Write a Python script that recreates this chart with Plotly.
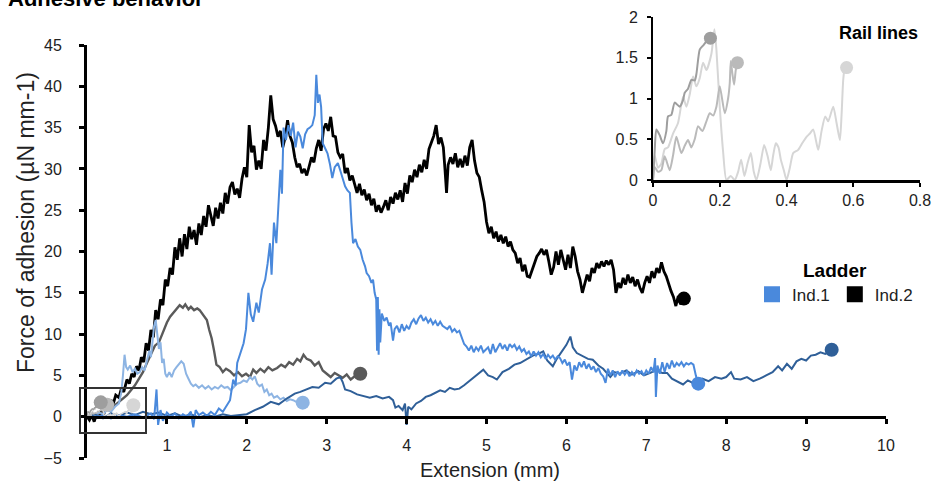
import plotly.graph_objects as go

FONT = "Liberation Sans, Arial, sans-serif"

# ---------------- data (extension mm, force µN mm-1) ----------------
ladder_ind2_a = [
    (0.00, 0.0), (0.03, -0.4), (0.06, 0.2), (0.09, -0.6), (0.12, 0.3), (0.15, -0.2), (0.18, 0.6),
    (0.21, 0.3), (0.24, 1.2), (0.27, 0.9), (0.30, 2.0), (0.33, 1.6), (0.36, 2.6), (0.40, 2.3),
    (0.43, 3.4), (0.46, 3.0), (0.50, 4.5), (0.53, 4.0), (0.56, 5.2), (0.59, 4.8), (0.62, 6.1),
    (0.65, 5.6), (0.68, 7.2), (0.71, 6.6), (0.74, 8.9), (0.77, 8.0), (0.80, 10.5), (0.83, 9.6),
    (0.86, 12.9), (0.89, 11.8), (0.92, 14.2), (0.95, 13.5), (0.98, 16.6), (1.01, 15.8), (1.04, 18.0),
    (1.07, 17.2), (1.10, 20.5), (1.13, 19.0), (1.16, 21.6), (1.19, 19.4), (1.22, 22.1), (1.25, 20.3),
    (1.28, 23.0), (1.31, 21.5), (1.34, 22.6), (1.37, 20.8), (1.40, 23.4), (1.43, 22.0), (1.46, 24.3),
    (1.49, 23.0), (1.52, 25.6), (1.55, 24.2), (1.58, 23.1), (1.61, 25.3), (1.64, 24.0), (1.67, 25.9),
    (1.70, 24.6), (1.73, 27.1), (1.76, 25.8), (1.79, 27.8), (1.82, 28.4), (1.85, 26.9), (1.88, 27.6),
    (1.91, 26.5), (1.94, 28.8), (1.97, 30.2), (2.00, 29.0), (2.03, 35.3), (2.06, 32.0), (2.09, 32.8),
    (2.12, 29.9), (2.15, 31.0), (2.18, 30.0), (2.21, 33.5), (2.24, 32.2), (2.27, 35.0), (2.30, 38.9),
    (2.33, 36.0), (2.36, 35.2), (2.39, 33.9), (2.42, 34.6), (2.45, 32.6), (2.48, 33.8), (2.51, 35.9),
    (2.54, 34.0), (2.57, 33.2), (2.60, 31.4), (2.63, 30.2), (2.66, 30.6), (2.69, 29.5), (2.72, 30.0),
    (2.75, 29.2), (2.78, 30.4), (2.81, 31.4), (2.84, 30.8), (2.87, 32.5), (2.90, 33.5), (2.93, 32.2),
    (2.96, 34.8), (2.99, 35.5), (3.02, 34.6), (3.05, 36.3), (3.08, 34.0), (3.11, 33.9), (3.14, 32.0),
    (3.17, 31.4), (3.20, 31.8), (3.23, 29.5), (3.26, 30.1), (3.29, 28.6), (3.32, 29.2), (3.35, 28.0),
    (3.38, 27.1), (3.41, 28.2), (3.44, 26.8), (3.47, 27.5), (3.50, 26.2), (3.53, 27.0), (3.56, 25.6),
    (3.59, 26.4), (3.62, 24.8), (3.65, 25.6), (3.68, 24.7), (3.71, 25.4), (3.74, 26.2), (3.77, 25.0),
    (3.80, 26.6), (3.83, 25.8), (3.86, 27.1), (3.89, 26.3), (3.92, 27.4), (3.95, 26.0), (3.98, 28.3),
    (4.01, 27.0), (4.04, 29.2), (4.07, 28.4), (4.10, 29.9), (4.13, 29.0), (4.16, 30.5), (4.19, 29.6),
    (4.22, 31.1), (4.25, 30.0), (4.28, 32.4), (4.31, 33.2), (4.34, 34.0), (4.37, 35.3), (4.40, 33.0),
    (4.43, 33.8), (4.46, 32.6), (4.48, 30.0), (4.50, 27.1), (4.52, 30.5), (4.55, 31.4), (4.58, 30.6),
    (4.61, 31.9), (4.64, 30.2), (4.67, 31.2), (4.70, 30.2), (4.73, 31.6), (4.76, 30.4), (4.79, 32.6),
    (4.82, 33.5), (4.85, 31.0), (4.88, 29.5), (4.91, 29.0), (4.94, 27.4), (4.97, 26.0), (5.00, 23.6),
    (5.03, 22.2), (5.06, 23.0), (5.09, 21.6), (5.12, 22.4), (5.15, 21.2), (5.18, 22.0), (5.21, 21.0),
    (5.24, 21.8), (5.27, 20.6), (5.30, 21.2), (5.33, 20.2), (5.36, 19.8), (5.39, 18.6), (5.42, 19.2),
    (5.45, 17.6), (5.48, 18.4), (5.51, 17.0), (5.54, 16.9), (5.57, 17.8), (5.60, 18.6), (5.63, 19.4),
    (5.66, 19.8), (5.69, 20.3), (5.72, 19.6), (5.75, 20.2), (5.78, 18.8), (5.81, 17.2), (5.84, 18.1),
    (5.87, 20.0), (5.90, 18.4), (5.93, 20.2), (5.96, 19.0), (5.99, 17.8), (6.02, 19.6), (6.05, 18.0),
    (6.08, 20.6), (6.11, 19.4), (6.14, 17.6), (6.17, 16.6), (6.20, 15.0), (6.23, 16.0), (6.26, 17.2),
    (6.29, 16.4), (6.32, 18.0), (6.35, 17.4), (6.38, 18.6), (6.41, 18.0), (6.44, 18.8), (6.47, 18.2),
    (6.50, 18.9), (6.53, 18.4), (6.56, 19.0), (6.59, 17.8), (6.62, 15.0), (6.65, 16.2), (6.68, 15.6),
    (6.71, 16.8), (6.74, 16.0), (6.77, 17.2), (6.80, 16.2), (6.83, 16.9), (6.86, 15.8), (6.89, 16.6),
    (6.92, 15.6), (6.95, 15.0), (6.98, 16.2), (7.01, 17.0), (7.04, 16.2), (7.07, 17.6), (7.10, 16.8),
    (7.13, 18.0), (7.16, 17.4), (7.19, 18.7), (7.22, 17.6), (7.25, 17.0), (7.28, 16.0), (7.31, 15.2),
    (7.34, 14.5), (7.37, 13.4), (7.40, 14.6), (7.43, 13.6), (7.47, 14.3),
]

ladder_ind2_b = [
    (0.00, 0.0), (0.10, 0.2), (0.20, 0.6), (0.30, 1.0), (0.40, 1.8), (0.50, 2.6), (0.60, 3.8),
    (0.70, 5.4), (0.75, 6.5), (0.80, 7.5), (0.85, 8.6), (0.90, 9.0), (0.95, 10.2), (1.00, 11.4),
    (1.04, 12.1), (1.08, 12.6), (1.12, 13.0), (1.16, 13.5), (1.20, 13.2), (1.23, 13.6), (1.27, 13.0),
    (1.30, 13.3), (1.34, 12.9), (1.38, 13.1), (1.41, 12.9), (1.45, 12.3), (1.50, 11.7), (1.53, 10.5),
    (1.56, 9.5), (1.59, 8.0), (1.62, 6.3), (1.66, 6.0), (1.70, 5.4), (1.74, 5.8), (1.79, 5.5),
    (1.84, 5.0), (1.89, 5.4), (1.94, 4.9), (1.99, 5.2), (2.04, 4.8), (2.08, 5.7), (2.12, 5.3),
    (2.17, 5.8), (2.22, 5.4), (2.27, 6.0), (2.32, 5.6), (2.38, 5.9), (2.43, 6.3), (2.48, 6.0),
    (2.53, 6.6), (2.58, 6.3), (2.63, 7.0), (2.67, 6.7), (2.71, 7.5), (2.75, 7.0), (2.80, 6.8),
    (2.85, 6.2), (2.90, 6.6), (2.95, 5.6), (3.00, 5.2), (3.05, 4.8), (3.10, 5.3), (3.15, 5.0),
    (3.20, 4.7), (3.25, 5.1), (3.30, 4.5), (3.35, 4.9), (3.42, 5.2),
]

ladder_ind1_a = [
    (0.00, 0.0), (0.05, 0.3), (0.10, 0.1), (0.15, 0.5), (0.20, 0.3), (0.25, 0.8), (0.30, 0.6),
    (0.35, 1.2), (0.40, 1.6), (0.43, 3.0), (0.45, 5.0), (0.47, 7.5), (0.49, 6.0), (0.51, 5.7),
    (0.54, 6.2), (0.57, 5.4), (0.60, 5.8), (0.63, 5.2), (0.66, 5.4), (0.69, 6.0), (0.72, 5.6),
    (0.75, 6.8), (0.78, 8.0), (0.80, 7.2), (0.82, 9.5), (0.84, 11.0), (0.86, 11.7), (0.88, 10.0),
    (0.90, 8.2), (0.92, 9.0), (0.94, 6.5), (0.96, 7.0), (0.98, 5.2), (1.00, 4.8), (1.03, 5.4),
    (1.06, 4.8), (1.09, 5.6), (1.12, 6.0), (1.15, 6.3), (1.18, 6.7), (1.21, 6.4), (1.24, 5.2),
    (1.27, 4.6), (1.30, 4.0), (1.33, 3.7), (1.36, 3.9), (1.40, 3.5), (1.44, 3.8), (1.48, 3.4),
    (1.52, 3.7), (1.56, 3.3), (1.60, 3.6), (1.64, 3.4), (1.68, 3.8), (1.72, 3.5), (1.76, 3.6),
    (1.80, 3.2), (1.84, 3.6), (1.88, 4.0), (1.92, 4.1), (1.96, 4.4), (2.00, 4.2), (2.04, 4.8),
    (2.07, 4.5), (2.10, 4.9), (2.13, 4.0), (2.16, 3.7), (2.19, 3.9), (2.22, 3.0), (2.25, 3.3),
    (2.28, 2.6), (2.31, 2.8), (2.34, 2.3), (2.38, 2.5), (2.42, 2.1), (2.46, 2.3), (2.50, 1.9),
    (2.54, 2.1), (2.58, 2.0), (2.62, 1.8), (2.66, 1.9), (2.70, 1.7),
]

ladder_ind1_b = [
    (0.10, 0.0), (0.20, 0.1), (0.30, -0.2), (0.40, 0.2), (0.50, 0.0), (0.60, 0.3), (0.70, -0.1),
    (0.80, 0.4), (0.84, -0.3), (0.87, 3.3), (0.89, -1.0), (0.92, 0.8), (0.95, -0.5), (1.00, 0.5),
    (1.05, 0.0), (1.10, 0.4), (1.15, -0.2), (1.20, 0.3), (1.25, 0.0), (1.30, 0.6), (1.33, -1.3),
    (1.36, 0.8), (1.40, 0.2), (1.45, 0.5), (1.50, 0.1), (1.55, 0.6), (1.60, 0.2), (1.65, 1.0),
    (1.70, 0.6), (1.75, 1.4), (1.79, 2.0), (1.83, 4.5), (1.86, 3.8), (1.88, 6.5), (1.92, 7.6),
    (1.96, 8.9), (1.99, 10.6), (2.02, 15.0), (2.05, 12.4), (2.08, 11.5), (2.12, 13.8), (2.15, 12.6),
    (2.19, 15.4), (2.23, 16.6), (2.26, 18.5), (2.29, 21.0), (2.31, 17.2), (2.34, 23.5), (2.37, 21.0),
    (2.40, 27.0), (2.42, 29.9), (2.44, 27.0), (2.46, 35.0), (2.49, 33.5), (2.52, 35.3), (2.55, 34.0),
    (2.58, 35.6), (2.61, 32.6), (2.64, 34.5), (2.67, 33.9), (2.70, 32.5), (2.73, 34.2), (2.76, 34.8),
    (2.79, 35.0), (2.82, 35.3), (2.85, 36.5), (2.87, 41.4), (2.89, 38.0), (2.91, 39.0), (2.93, 37.5),
    (2.95, 33.1), (2.98, 32.5), (3.01, 31.9), (3.04, 30.6), (3.07, 28.9), (3.10, 30.2), (3.14, 30.7),
    (3.17, 29.8), (3.20, 28.7), (3.23, 27.9), (3.26, 27.4), (3.29, 27.1), (3.31, 23.5), (3.33, 21.0),
    (3.36, 21.5), (3.39, 20.6), (3.42, 20.2), (3.45, 19.0), (3.48, 18.2), (3.50, 17.4), (3.53, 17.0),
    (3.56, 16.2), (3.58, 16.6), (3.60, 15.0), (3.62, 14.2), (3.63, 8.0), (3.64, 14.5), (3.65, 7.5),
    (3.66, 13.0), (3.67, 9.0), (3.69, 12.5), (3.72, 11.6), (3.75, 12.0), (3.78, 11.0), (3.80, 11.4),
    (3.83, 9.2), (3.85, 10.6), (3.88, 11.0), (3.91, 10.2), (3.94, 11.2), (3.97, 10.4), (4.00, 11.0),
    (4.03, 10.6), (4.06, 11.4), (4.09, 11.8), (4.12, 11.2), (4.15, 11.9), (4.18, 12.3), (4.21, 11.6),
    (4.24, 12.0), (4.27, 11.4), (4.30, 11.8), (4.33, 11.2), (4.36, 11.6), (4.39, 11.0), (4.42, 11.5),
    (4.45, 11.0), (4.48, 10.8), (4.51, 10.6), (4.54, 11.0), (4.57, 10.3), (4.60, 10.6), (4.63, 10.2),
    (4.66, 10.4), (4.69, 9.6), (4.72, 8.8), (4.75, 8.5), (4.78, 8.0), (4.81, 8.6), (4.84, 7.8),
    (4.87, 8.4), (4.90, 8.0), (4.93, 8.6), (4.96, 7.8), (4.99, 8.1), (5.02, 8.4), (5.05, 7.6),
    (5.08, 8.8), (5.11, 7.8), (5.14, 8.3), (5.17, 8.9), (5.20, 8.2), (5.23, 8.7), (5.26, 8.0),
    (5.29, 8.8), (5.32, 8.4), (5.35, 8.7), (5.38, 8.1), (5.41, 8.5), (5.44, 7.9), (5.47, 8.2),
    (5.50, 7.6), (5.53, 7.9), (5.56, 7.3), (5.59, 7.9), (5.62, 7.4), (5.65, 7.8), (5.68, 7.2),
    (5.71, 7.6), (5.74, 7.0), (5.77, 7.5), (5.80, 7.1), (5.83, 7.4), (5.86, 6.9), (5.89, 7.3),
    (5.92, 7.1), (5.95, 6.5), (5.98, 6.9), (6.01, 6.2), (6.04, 6.6), (6.07, 4.5), (6.10, 6.2),
    (6.13, 5.6), (6.16, 6.6), (6.19, 6.0), (6.22, 6.7), (6.25, 5.8), (6.28, 6.4), (6.31, 5.7),
    (6.34, 6.1), (6.37, 5.4), (6.40, 5.9), (6.43, 5.2), (6.46, 4.9), (6.49, 4.1), (6.52, 5.8),
    (6.55, 5.0), (6.58, 5.6), (6.61, 4.8), (6.64, 5.5), (6.67, 5.0), (6.70, 5.6), (6.73, 5.1),
    (6.76, 5.5), (6.79, 4.9), (6.82, 5.4), (6.85, 5.0), (6.88, 5.6), (6.91, 5.2), (6.94, 5.5),
    (6.97, 5.0), (7.00, 5.6), (7.03, 5.2), (7.06, 6.0), (7.09, 5.4), (7.11, 7.1), (7.12, 2.4),
    (7.14, 6.2), (7.17, 5.2), (7.20, 6.6), (7.23, 5.4), (7.26, 6.5), (7.29, 5.8), (7.32, 6.8),
    (7.35, 6.0), (7.38, 6.5), (7.41, 6.2), (7.44, 6.6), (7.47, 6.1), (7.50, 6.5), (7.53, 6.3),
    (7.56, 6.5), (7.59, 6.3), (7.62, 5.0), (7.65, 4.0),
]

ladder_ind1_c = [
    (0.00, 0.0), (0.10, 0.3), (0.20, -0.2), (0.30, 0.4), (0.40, 0.1), (0.50, 0.5), (0.60, 0.2),
    (0.70, 0.6), (0.80, 0.3), (0.90, 0.5), (1.00, 0.1), (1.10, 0.4), (1.20, 0.0), (1.30, 0.3),
    (1.40, -0.1), (1.50, 0.2), (1.60, 0.0), (1.70, 0.3), (1.80, 0.1), (1.90, 0.2), (2.00, 0.3),
    (2.10, 0.8), (2.20, 1.2), (2.30, 1.8), (2.40, 1.5), (2.50, 2.2), (2.60, 2.8), (2.67, 3.0),
    (2.75, 3.3), (2.82, 3.6), (2.90, 3.5), (2.98, 4.1), (3.05, 4.0), (3.12, 4.6), (3.17, 4.8),
    (3.20, 4.2), (3.23, 3.3), (3.30, 3.1), (3.38, 2.7), (3.46, 2.5), (3.54, 2.3), (3.62, 2.5),
    (3.70, 2.2), (3.78, 2.4), (3.83, 2.0), (3.86, 1.1), (3.90, 1.3), (3.95, 0.8), (3.98, 1.6),
    (4.00, -1.0), (4.02, 1.2), (4.06, 0.9), (4.12, 1.6), (4.18, 1.9), (4.24, 2.4), (4.30, 2.6),
    (4.36, 2.9), (4.42, 3.2), (4.48, 3.0), (4.54, 3.5), (4.60, 3.3), (4.66, 3.4), (4.72, 3.8),
    (4.78, 4.3), (4.84, 4.8), (4.90, 5.3), (4.96, 5.7), (5.02, 5.0), (5.08, 4.8), (5.13, 4.5),
    (5.20, 5.4), (5.28, 5.8), (5.35, 6.3), (5.42, 6.5), (5.50, 7.0), (5.58, 7.4), (5.65, 7.6),
    (5.71, 7.9), (5.76, 6.8), (5.83, 6.1), (5.88, 7.0), (5.94, 7.8), (6.00, 8.7), (6.05, 9.7),
    (6.08, 8.4), (6.13, 7.7), (6.20, 7.4), (6.27, 7.0), (6.33, 6.9), (6.40, 6.2), (6.46, 5.8),
    (6.52, 5.2), (6.55, 4.8), (6.60, 5.4), (6.67, 5.2), (6.75, 5.6), (6.82, 5.1), (6.90, 5.5),
    (6.97, 5.0), (7.05, 5.3), (7.12, 5.6), (7.20, 5.3), (7.26, 5.3), (7.32, 4.6), (7.38, 4.3),
    (7.46, 3.9), (7.52, 4.4), (7.58, 4.1), (7.63, 4.3), (7.70, 4.6), (7.78, 4.3), (7.86, 4.8),
    (7.94, 4.6), (8.00, 4.8), (8.06, 5.4), (8.10, 4.6), (8.18, 4.5), (8.26, 4.8), (8.34, 4.3),
    (8.42, 4.6), (8.50, 5.0), (8.58, 5.4), (8.65, 6.1), (8.70, 5.6), (8.76, 6.4), (8.82, 5.8),
    (8.88, 6.7), (8.94, 7.0), (9.00, 6.8), (9.06, 7.4), (9.12, 7.5), (9.18, 7.8), (9.24, 7.6),
    (9.32, 8.1),
]

rail_a = [
    (0.0, 0.0), (0.005, 0.35), (0.01, 0.62), (0.02, 0.55), (0.03, 0.45), (0.04, 0.6), (0.045, 0.78),
    (0.055, 0.8), (0.065, 0.95), (0.08, 0.9), (0.09, 0.98), (0.095, 1.07), (0.105, 1.12),
    (0.115, 1.23), (0.125, 1.22), (0.13, 1.3), (0.14, 1.6), (0.15, 1.65), (0.16, 1.7), (0.172, 1.74),
]

rail_b = [
    (0.0, 0.0), (0.005, 0.16), (0.015, 0.1), (0.025, 0.12), (0.035, 0.29), (0.05, 0.12), (0.06, 0.3),
    (0.07, 0.53), (0.085, 0.33), (0.095, 0.42), (0.105, 0.49), (0.115, 0.4), (0.125, 0.5),
    (0.135, 0.66), (0.148, 0.6), (0.16, 0.72), (0.17, 0.82), (0.18, 0.79), (0.19, 0.9), (0.2, 1.15),
    (0.215, 0.82), (0.225, 1.0), (0.23, 1.19), (0.233, 1.46), (0.238, 1.3), (0.243, 1.17),
    (0.248, 1.35), (0.253, 1.44),
]

rail_c = [
    (0.0, 0.0), (0.005, 0.3), (0.015, 0.15), (0.025, 0.2), (0.035, 0.38), (0.045, 0.4), (0.06, 0.57),
    (0.075, 0.7), (0.09, 1.02), (0.1, 0.9), (0.11, 1.05), (0.12, 1.27), (0.13, 1.15), (0.14, 1.25),
    (0.15, 1.44), (0.16, 1.35), (0.175, 1.55), (0.184, 1.85), (0.19, 1.6), (0.2, 0.9), (0.21, 0.35),
    (0.22, 0.0), (0.233, 0.05), (0.245, 0.0), (0.255, 0.1), (0.264, 0.25), (0.274, 0.05),
    (0.283, 0.2), (0.293, 0.33), (0.302, 0.1), (0.31, 0.0), (0.322, 0.2), (0.333, 0.43),
    (0.343, 0.3), (0.353, 0.12), (0.36, 0.3), (0.368, 0.45), (0.376, 0.4), (0.383, 0.25),
    (0.392, 0.12), (0.4, 0.0), (0.41, 0.15), (0.42, 0.33), (0.435, 0.37), (0.447, 0.45),
    (0.46, 0.53), (0.47, 0.57), (0.48, 0.62), (0.495, 0.37), (0.505, 0.6), (0.516, 0.78),
    (0.525, 0.72), (0.54, 0.9), (0.55, 0.7), (0.56, 0.49), (0.565, 0.8), (0.57, 1.23),
    (0.575, 1.38), (0.58, 1.38),
]

y_ticks = [-5, 0, 5, 10, 15, 20, 25, 30, 35, 40, 45]
x_ticks = [1, 2, 3, 4, 5, 6, 7, 8, 9, 10]
inset_x_ticks = [0, 0.2, 0.4, 0.6, 0.8]
inset_x_labels = ["0", "0.2", "0.4", "0.6", "0.8"]
inset_y_ticks = [0, 0.5, 1, 1.5, 2]
inset_y_labels = ["0", "0.5", "1", "1.5", "2"]
legend_names = ["Ind.1", "Ind.2"]
legend_colors = ["#4a89dc", "#000000"]


def xs(p):
    return [a for a, _ in p]


def ys(p):
    return [b for _, b in p]


fig = go.Figure()

main_series = [
    (ladder_ind2_a, "#000000", 2.8),
    (ladder_ind2_b, "#5a5a5a", 2.4),
    (ladder_ind1_a, "#8db4e3", 2.0),
    (ladder_ind1_c, "#2f5f98", 2.0),
    (ladder_ind1_b, "#4a89dc", 2.0),
]
rails = [
    (rail_c, "#d6d6d6"),
    (rail_b, "#bababa"),
    (rail_a, "#9e9e9e"),
]

for pts, col, w in main_series:
    fig.add_trace(go.Scatter(x=xs(pts), y=ys(pts), mode="lines", line=dict(color=col, width=w),
                             showlegend=False, hoverinfo="skip", xaxis="x", yaxis="y"))
    fig.add_trace(go.Scatter(x=[pts[-1][0]], y=[pts[-1][1]], mode="markers",
                             marker=dict(color=col, size=14), showlegend=False,
                             hoverinfo="skip", xaxis="x", yaxis="y"))

for pts, col in rails:
    fig.add_trace(go.Scatter(x=xs(pts), y=ys(pts), mode="lines",
                             line=dict(color=col, width=1.5, shape="spline", smoothing=0.6),
                             showlegend=False, hoverinfo="skip", xaxis="x", yaxis="y"))
    fig.add_trace(go.Scatter(x=[pts[-1][0]], y=[pts[-1][1]], mode="markers",
                             marker=dict(color=col, size=14), showlegend=False,
                             hoverinfo="skip", xaxis="x", yaxis="y"))
    fig.add_trace(go.Scatter(x=xs(pts), y=ys(pts), mode="lines",
                             line=dict(color=col, width=2, shape="spline", smoothing=0.6),
                             showlegend=False, hoverinfo="skip", xaxis="x2", yaxis="y2"))
    fig.add_trace(go.Scatter(x=[pts[-1][0]], y=[pts[-1][1]], mode="markers",
                             marker=dict(color=col, size=13), showlegend=False, cliponaxis=False,
                             hoverinfo="skip", xaxis="x2", yaxis="y2"))

for name, col in zip(legend_names, legend_colors):
    fig.add_trace(go.Scatter(x=[None], y=[None], mode="markers", name=name,
                             marker=dict(symbol="square", size=18, color=col),
                             xaxis="x", yaxis="y"))

W, H = 935, 488


def px_x(p):
    return p / W


def px_y(p):
    return 1 - p / H


tickfont = dict(family=FONT, size=16, color="#222222")

fig.update_layout(
    width=W, height=H,
    margin=dict(l=0, r=0, t=0, b=0, autoexpand=False),
    paper_bgcolor="white", plot_bgcolor="rgba(0,0,0,0)",
    font=dict(family=FONT, color="#222222"),
    xaxis=dict(domain=[px_x(87), px_x(886)], range=[0, 10], anchor="free", position=px_y(417),
               tickvals=x_ticks, showline=True, linecolor="black", linewidth=3,
               ticks="outside", ticklen=5, tickwidth=2.5, tickcolor="black", automargin=False,
               showgrid=False, zeroline=False, tickfont=tickfont, ticklabelstandoff=8),
    yaxis=dict(domain=[px_y(458), px_y(45)], range=[-5, 45], anchor="x",
               tickvals=y_ticks, showline=True, linecolor="black", linewidth=3,
               ticks="outside", ticklen=5, tickwidth=2.5, tickcolor="black", automargin=False,
               showgrid=False, zeroline=False, tickfont=tickfont, ticklabelstandoff=14),
    xaxis2=dict(domain=[px_x(653), px_x(920)], range=[0, 0.8], anchor="y2",
                tickvals=inset_x_ticks, ticktext=inset_x_labels, showline=True,
                linecolor="black", linewidth=2.5, ticks="outside", ticklen=4, tickwidth=2,
                tickcolor="black", showgrid=False, zeroline=False, tickfont=tickfont,
                automargin=False),
    yaxis2=dict(domain=[px_y(180), px_y(17)], range=[0, 2], anchor="x2",
                tickvals=inset_y_ticks, ticktext=inset_y_labels, showline=True,
                linecolor="black", linewidth=2, ticks="outside", ticklen=4, tickwidth=2,
                tickcolor="black", showgrid=False, zeroline=False, tickfont=tickfont,
                ticklabelstandoff=6, automargin=False),
    legend=dict(orientation="h", x=px_x(835), y=px_y(252), xanchor="center", yanchor="top",
                title=dict(text="<b>Ladder</b>", side="top center",
                           font=dict(family=FONT, size=19, color="black")),
                font=dict(family=FONT, size=17, color="#222222"), bgcolor="rgba(0,0,0,0)",
                itemwidth=30, tracegroupgap=0),
    shapes=[dict(type="rect", xref="paper", yref="paper",
                 x0=px_x(80), x1=px_x(146), y0=px_y(433), y1=px_y(388),
                 line=dict(color="#333333", width=2))],
    annotations=[
        dict(text="Force of adhesion (µN mm-1)", xref="paper", yref="paper",
             x=px_x(26), y=px_y(223), textangle=-90, showarrow=False,
             font=dict(family=FONT, size=23, color="#222222"), xanchor="center", yanchor="middle"),
        dict(text="Extension (mm)", xref="paper", yref="paper",
             x=px_x(490), y=px_y(470), showarrow=False,
             font=dict(family=FONT, size=20, color="#222222"), xanchor="center", yanchor="middle"),
        dict(text="<b>Rail lines</b>", xref="paper", yref="paper",
             x=px_x(878), y=px_y(33), showarrow=False,
             font=dict(family=FONT, size=18, color="black"), xanchor="center", yanchor="middle"),
        dict(text="<b>Adhesive behavior</b>", xref="paper", yref="paper",
             x=px_x(6), y=px_y(-2), showarrow=False,
             font=dict(family=FONT, size=22, color="black"), xanchor="left", yanchor="middle"),
    ],
)

fig.write_html("out.html", config={"displayModeBar": False},
               post_script="document.body.style.margin='0';document.body.style.overflow='hidden';")
